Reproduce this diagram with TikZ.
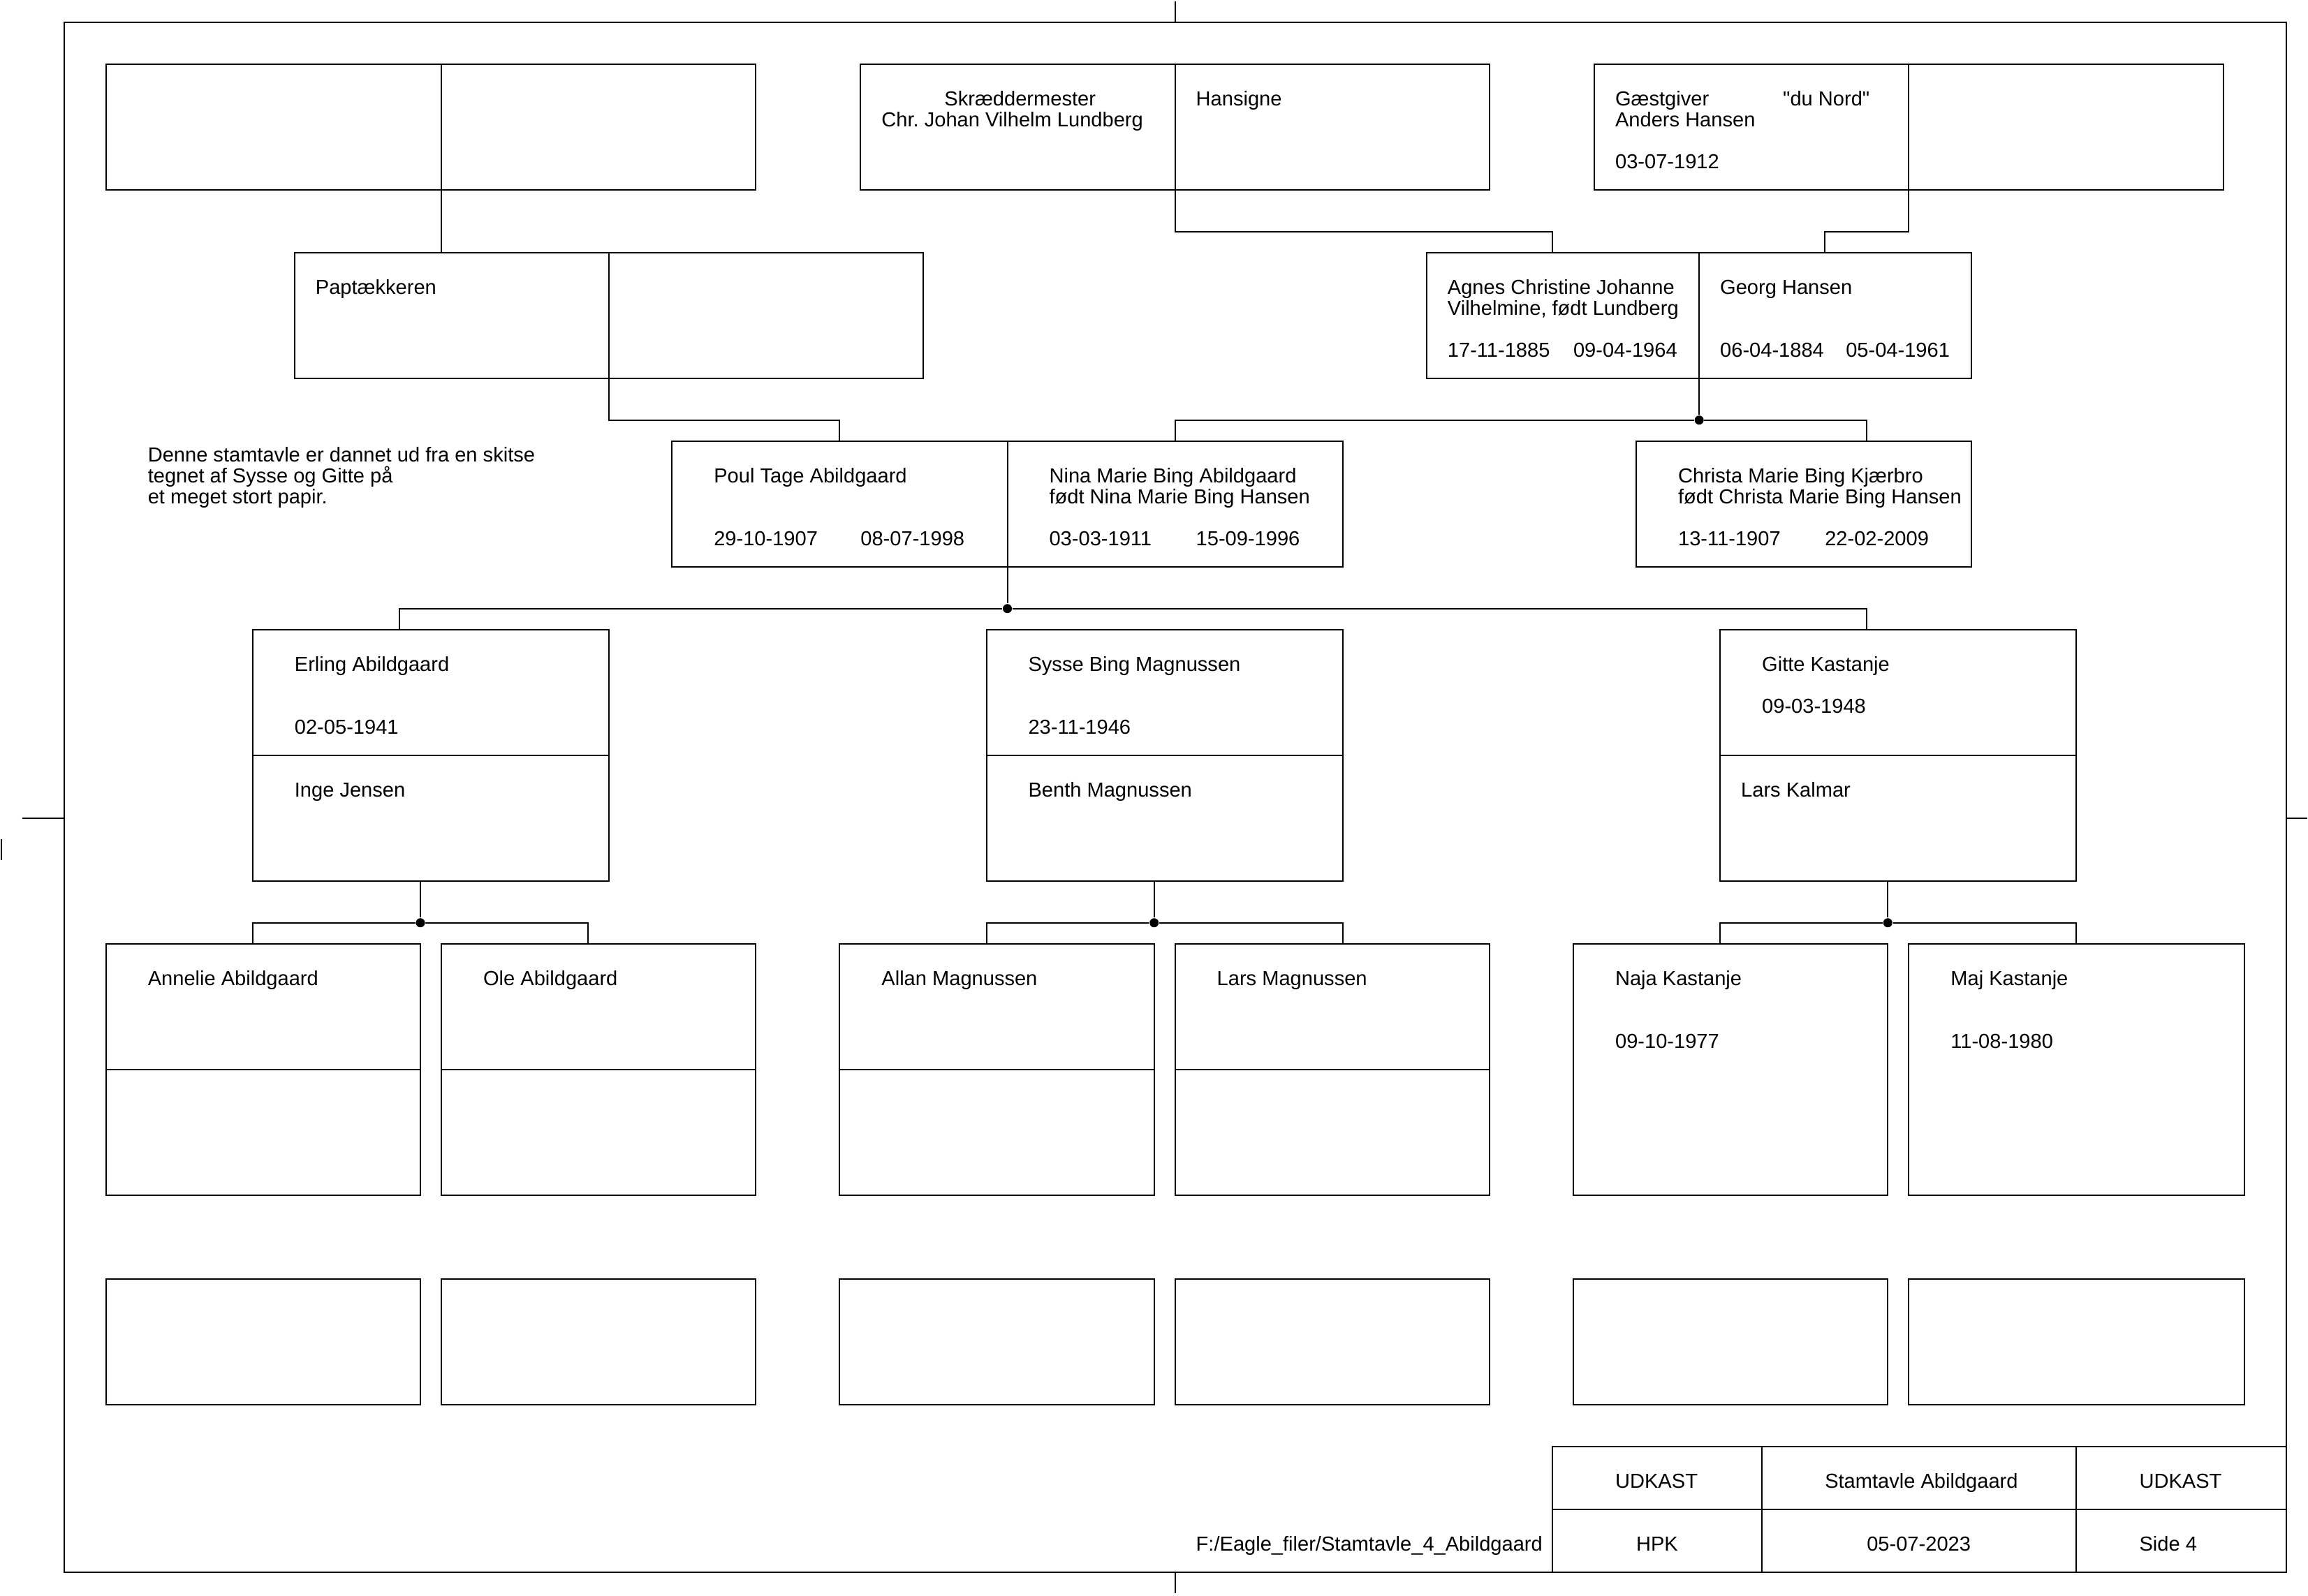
\documentclass[tikz,border=0pt]{standalone}
\usepackage{fontspec}
\usepackage{tikz}
\newfontfamily\labelfont{Liberation Sans}
\usetikzlibrary{calc, positioning}

\tikzset{
  line/.style={line width=0.48pt},
  slot/.style 2 args={draw, line width=0.48pt, anchor=north west, inner sep=0pt, outer sep=0pt,
    minimum width=#1*0.254cm, minimum height=#2*0.25385cm},
  label/.style={anchor=base west, inner sep=0pt, outer sep=0pt,
    font=\labelfont\fontsize{7}{7.2}\selectfont\frenchspacing},
  junction/.style={circle, fill, inner sep=0pt, minimum size=0.11cm}
}

\begin{document}
\begin{tikzpicture}[x=0.254cm, y=-0.25385cm]
  \useasboundingbox (-3.055,-1.057) rectangle (107.045,75.113);

  % frame and its marks
  \node[slot={106}{74}] (frame) at (0, 0) {};
  \coordinate (marktop) at (53, -1);
  \coordinate (markbottom) at (53, 75);
  \coordinate (markleft) at (-2, 38);
  \coordinate (markright) at (107, 38);
  \coordinate (strokeA) at (-3, 39);
  \coordinate (strokeB) at (-3, 40);
  \draw[line] (marktop) -- (marktop |- frame.north);
  \draw[line] (markbottom) -- (markbottom |- frame.south);
  \draw[line] (markleft) -- (markleft -| frame.west);
  \draw[line] (markright) -- (markright -| frame.east);
  \draw[line] (strokeA) -- (strokeB);

  % first row
  \node[slot={16}{6}] (oldA) at (2, 2) {};
  \node[slot={15}{6}] (oldB) at (18, 2) {};
  \node[slot={15}{6}] (skr) at (38, 2) {};
  \node[slot={15}{6}] (hansigne) at (53, 2) {};
  \node[slot={15}{6}] (anders) at (73, 2) {};
  \node[slot={15}{6}] (andersW) at (88, 2) {};
  \node[label] (skrA) at (42, 4) {Skræddermester};
  \node[label] (skrB) at (39, 5) {Chr. Johan Vilhelm Lundberg};
  \node[label] (hansigneA) at (54, 4) {Hansigne};
  \node[label] (andersA) at (74, 4) {Gæstgiver};
  \node[label] (andersN) at (82, 4) {"du Nord"};
  \node[label] (andersB) at (74, 5) {Anders Hansen};
  \node[label] (andersD) at (74, 7) {03-07-1912};

  % second row
  \node[slot={15}{6}] (pap) at (11, 11) {};
  \node[slot={15}{6}] (papW) at (26, 11) {};
  \node[slot={13}{6}] (agnes) at (65, 11) {};
  \node[slot={13}{6}] (georg) at (78, 11) {};
  \node[label] (papA) at (12, 13) {Paptækkeren};
  \node[label] (agnesA) at (66, 13) {Agnes Christine Johanne};
  \node[label] (agnesB) at (66, 14) {Vilhelmine, født Lundberg};
  \node[label] (agnesD) at (66, 16) {17-11-1885};
  \node[label] (agnesE) at (72, 16) {09-04-1964};
  \node[label] (georgA) at (79, 13) {Georg Hansen};
  \node[label] (georgD) at (79, 16) {06-04-1884};
  \node[label] (georgE) at (85, 16) {05-04-1961};

  % third row
  \node[slot={16}{6}] (poul) at (29, 20) {};
  \node[slot={16}{6}] (nina) at (45, 20) {};
  \node[slot={16}{6}] (christa) at (75, 20) {};
  \node[label] (noteA) at (4, 21) {Denne stamtavle er dannet ud fra en skitse};
  \node[label] (noteB) at (4, 22) {tegnet af Sysse og Gitte på};
  \node[label] (noteC) at (4, 23) {et meget stort papir.};
  \node[label] (poulA) at (31, 22) {Poul Tage Abildgaard};
  \node[label] (poulD) at (31, 25) {29-10-1907};
  \node[label] (poulE) at (38, 25) {08-07-1998};
  \node[label] (ninaA) at (47, 22) {Nina Marie Bing Abildgaard};
  \node[label] (ninaB) at (47, 23) {født Nina Marie Bing Hansen};
  \node[label] (ninaD) at (47, 25) {03-03-1911};
  \node[label] (ninaE) at (54, 25) {15-09-1996};
  \node[label] (christaA) at (77, 22) {Christa Marie Bing Kjærbro};
  \node[label] (christaB) at (77, 23) {født Christa Marie Bing Hansen};
  \node[label] (christaD) at (77, 25) {13-11-1907};
  \node[label] (christaE) at (84, 25) {22-02-2009};

  % fourth row
  \node[slot={17}{6}] (erling) at (9, 29) {};
  \node[slot={17}{6}] (inge) at (9, 35) {};
  \node[slot={17}{6}] (sysse) at (44, 29) {};
  \node[slot={17}{6}] (benth) at (44, 35) {};
  \node[slot={17}{6}] (gitte) at (79, 29) {};
  \node[slot={17}{6}] (lars) at (79, 35) {};
  \node[label] (erlingA) at (11, 31) {Erling Abildgaard};
  \node[label] (erlingD) at (11, 34) {02-05-1941};
  \node[label] (ingeA) at (11, 37) {Inge Jensen};
  \node[label] (sysseA) at (46, 31) {Sysse Bing Magnussen};
  \node[label] (sysseD) at (46, 34) {23-11-1946};
  \node[label] (benthA) at (46, 37) {Benth Magnussen};
  \node[label] (gitteA) at (81, 31) {Gitte Kastanje};
  \node[label] (gitteD) at (81, 33) {09-03-1948};
  \node[label] (larsA) at (80, 37) {Lars Kalmar};

  % fifth row
  \node[slot={15}{6}] (annelie) at (2, 44) {};
  \node[slot={15}{6}] (annelieW) at (2, 50) {};
  \node[slot={15}{6}] (ole) at (18, 44) {};
  \node[slot={15}{6}] (oleW) at (18, 50) {};
  \node[slot={15}{6}] (allan) at (37, 44) {};
  \node[slot={15}{6}] (allanW) at (37, 50) {};
  \node[slot={15}{6}] (larsM) at (53, 44) {};
  \node[slot={15}{6}] (larsW) at (53, 50) {};
  \node[slot={15}{12}] (naja) at (72, 44) {};
  \node[slot={16}{12}] (maj) at (88, 44) {};
  \node[label] (annelieA) at (4, 46) {Annelie Abildgaard};
  \node[label] (oleA) at (20, 46) {Ole Abildgaard};
  \node[label] (allanA) at (39, 46) {Allan Magnussen};
  \node[label] (larsMA) at (55, 46) {Lars Magnussen};
  \node[label] (najaA) at (74, 46) {Naja Kastanje};
  \node[label] (najaD) at (74, 49) {09-10-1977};
  \node[label] (majA) at (90, 46) {Maj Kastanje};
  \node[label] (majD) at (90, 49) {11-08-1980};

  % empty row
  \node[slot={15}{6}] (emptyA) at (2, 60) {};
  \node[slot={15}{6}] (emptyB) at (18, 60) {};
  \node[slot={15}{6}] (emptyC) at (37, 60) {};
  \node[slot={15}{6}] (emptyD) at (53, 60) {};
  \node[slot={15}{6}] (emptyE) at (72, 60) {};
  \node[slot={16}{6}] (emptyF) at (88, 60) {};

  % title block
  \node[slot={10}{3}] (titleA) at (71, 68) {};
  \node[slot={15}{3}] (titleB) at (81, 68) {};
  \node[slot={10}{3}] (titleC) at (96, 68) {};
  \node[slot={10}{3}] (titleD) at (71, 71) {};
  \node[slot={15}{3}] (titleE) at (81, 71) {};
  \node[slot={10}{3}] (titleF) at (96, 71) {};
  \node[label] (textA) at (74, 70) {UDKAST};
  \node[label] (textB) at (84, 70) {Stamtavle Abildgaard};
  \node[label] (textC) at (99, 70) {UDKAST};
  \node[label] (textD) at (75, 73) {HPK};
  \node[label] (textE) at (86, 73) {05-07-2023};
  \node[label] (textF) at (99, 73) {Side 4};
  \node[label] (filename) at (54, 73) {F:/Eagle\_filer/Stamtavle\_4\_Abildgaard};

  % junctions
  \node[junction] (dotA) at (78, 19) {};
  \node[junction] (dotB) at (45, 28) {};
  \node[junction] (dotC) at (17, 43) {};
  \node[junction] (dotD) at (52, 43) {};
  \node[junction] (dotE) at (87, 43) {};

  % connector ends
  \coordinate (agnesin) at (71, 11);
  \coordinate (georgin) at (84, 11);
  \coordinate (poulin) at (37, 20);
  \coordinate (ninain) at (53, 20);
  \coordinate (christain) at (86, 20);
  \coordinate (erlingin) at (16, 29);
  \coordinate (gittein) at (86, 29);
  \coordinate (anneliein) at (9, 44);
  \coordinate (olein) at (25, 44);
  \coordinate (allanin) at (44, 44);
  \coordinate (larsin) at (61, 44);
  \coordinate (najain) at (79, 44);
  \coordinate (majin) at (96, 44);

  \draw[line]
  (oldA.south east) -- (oldA.south east |- pap.north)
  (skr.south east) -- ++(0, 2) -| (agnesin)
  (anders.south east) -- ++(0, 2) -| (georgin)
  (pap.south east) -- ++(0, 2) -| (poulin)
  (agnes.south east) -- (dotA)
  (dotA) -| (ninain)
  (dotA) -| (christain)
  (poul.south east) -- (dotB)
  (dotB) -| (erlingin)
  (dotB) -| (gittein)
  (dotC |- inge.south) -- (dotC)
  (dotC) -| (anneliein)
  (dotC) -| (olein)
  (dotD |- benth.south) -- (dotD)
  (dotD) -| (allanin)
  (dotD) -| (larsin)
  (dotE |- lars.south) -- (dotE)
  (dotE) -| (najain)
  (dotE) -| (majin);
\end{tikzpicture}
\end{document}
